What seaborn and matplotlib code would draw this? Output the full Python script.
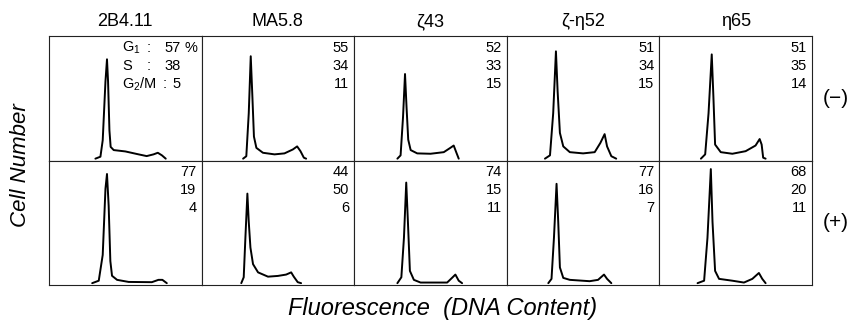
'''Cell-cycle DNA histograms for five clones, without (-) and with (+) stimulation.'''
import matplotlib
matplotlib.use('Agg')
import matplotlib.pyplot as plt
import seaborn as sns

CLONES = ['2B4.11', 'MA5.8', 'ζ43', 'ζ-η52', 'η65']
ROWS = ['(−)', '(+)']
PHASES = ['G$_1$', 'S', 'G$_2$/M']

# percent G1 / S / G2-M per clone
PCT_NEG = [[57, 38, 5], [55, 34, 11], [52, 33, 15], [51, 34, 15], [51, 35, 14]]
PCT_POS = [[77, 19, 4], [44, 50, 6], [74, 15, 11], [77, 16, 7], [68, 20, 11]]

# histogram traces: fluorescence channel (0-100) vs relative cell number
X_2B4_NEG = [30.4, 33.7, 35.2, 37, 38, 38.7, 39.6, 40.4, 42.4, 50, 58.7, 64, 68.5, 71.3, 74, 76.5]
Y_2B4_NEG = [0, 1.6, 15, 63, 81, 63, 23, 9.6, 7, 5.9, 3.5, 2.1, 3.5, 4.8, 2.7, 0]
X_MA5_NEG = [27.2, 29.3, 30.9, 32.2, 33.3, 34.3, 35.9, 40.2, 47.8, 54.3, 59.8, 62.6, 64.8, 67, 68.5]
Y_MA5_NEG = [0, 2, 37, 83.5, 50, 18, 8.8, 4.8, 3.5, 4.3, 7.5, 10, 6.1, 0.8, 0]
X_Z43_NEG = [28.3, 30.4, 32, 33.3, 34.3, 35.4, 37, 41.3, 50, 58.7, 63, 65.2, 67, 68.5]
Y_Z43_NEG = [0, 2.7, 34, 69, 42, 15.5, 7, 4.3, 4, 5.3, 8.8, 10.7, 4.8, 0]
X_ZE52_NEG = [25, 28.3, 30.4, 32.2, 33.3, 34.8, 37, 41.3, 50, 57.6, 61.3, 64.1, 65.7, 68.5, 71.7]
Y_ZE52_NEG = [0, 2.7, 37, 87.5, 55, 21, 10, 5.3, 4.3, 5.3, 12.8, 20, 10, 2, 0]
X_E65_NEG = [27.2, 30, 32.2, 34.3, 35.4, 36.5, 40.2, 47.8, 56.5, 63, 65.7, 67, 68, 69.6]
Y_E65_NEG = [0, 3.5, 37, 85, 50, 11.5, 5.3, 4, 6.1, 10.7, 16, 11.5, 0.8, 0]

X_2B4_POS = [28.3, 32.6, 35.2, 37, 38, 39.1, 40.2, 41.3, 44.6, 52.2, 67.4, 71.7, 74.3, 77.2]
Y_2B4_POS = [0, 2, 23, 77, 89, 63, 18, 6, 2.7, 1, 0.8, 2.7, 2.7, 0]
X_MA5_POS = [26, 27.6, 28.7, 30, 30.9, 32, 33.7, 37, 43.5, 50, 55.4, 58.7, 60.4, 63, 65.2]
Y_MA5_POS = [0, 4.8, 37, 73, 50, 29, 15.5, 8.8, 5.3, 5.9, 7, 8.8, 5.3, 0.8, 0]
X_Z43_POS = [28.3, 30.9, 32.6, 34.1, 35.2, 36.5, 39.1, 43.5, 60.9, 64.1, 66.3, 68.5, 70.7]
Y_Z43_POS = [0, 4.8, 37, 82, 50, 10, 2.7, 0.5, 0.5, 4.3, 7, 2, 0]
X_ZE52_POS = [27.2, 29.3, 30.9, 32.6, 33.7, 34.8, 37, 41.3, 54.3, 59.8, 63.7, 65.7, 68.5]
Y_ZE52_POS = [0, 3.5, 37, 81, 50, 12.8, 4.3, 2.7, 1.6, 2.7, 7, 3.5, 0]
X_E65_POS = [25, 29.3, 31.5, 33.7, 34.8, 36.5, 39.1, 47.8, 55.4, 60.9, 65.2, 67.4, 69.6]
Y_E65_POS = [0, 2, 37, 93, 50, 10, 3.5, 2, 0.5, 3.5, 8.3, 3.5, 0]

TRACES = [
    [(X_2B4_NEG, Y_2B4_NEG), (X_MA5_NEG, Y_MA5_NEG), (X_Z43_NEG, Y_Z43_NEG),
     (X_ZE52_NEG, Y_ZE52_NEG), (X_E65_NEG, Y_E65_NEG)],
    [(X_2B4_POS, Y_2B4_POS), (X_MA5_POS, Y_MA5_POS), (X_Z43_POS, Y_Z43_POS),
     (X_ZE52_POS, Y_ZE52_POS), (X_E65_POS, Y_E65_POS)],
]
PCTS = [PCT_NEG, PCT_POS]

sns.set_style('white')
plt.rcParams['font.family'] = ['Liberation Sans', 'DejaVu Sans']
plt.rcParams['text.color'] = 'black'
plt.rcParams['mathtext.fontset'] = 'custom'
plt.rcParams['mathtext.rm'] = 'Liberation Sans'
plt.rcParams['mathtext.it'] = 'Liberation Sans:italic'

W, H = 851, 324
fig, axes = plt.subplots(2, 5, figsize=(W / 100, H / 100), dpi=100)
fig.subplots_adjust(left=49 / W, right=812 / W, top=1 - 36 / H, bottom=1 - 285 / H,
                    wspace=0, hspace=0)

for r in range(2):
    for c in range(5):
        ax = axes[r, c]
        xs, ys = TRACES[r][c]
        sns.lineplot(x=xs, y=ys, ax=ax, color='black', lw=1.4, sort=False, estimator=None)
        ax.set_xlim(0, 100)
        ax.set_ylim(-1.5, 100)
        ax.set_xticks([])
        ax.set_yticks([])
        for sp in ax.spines.values():
            sp.set_color('#222222')
            sp.set_linewidth(0.8)
        vals = PCTS[r][c]
        line_y = [0.904, 0.76, 0.616]
        if r == 0 and c == 0:
            colon_x = [0.64, 0.64, 0.745]
            for k in range(3):
                ax.text(0.478, line_y[k], PHASES[k], transform=ax.transAxes,
                        ha='left', va='center', fontsize=10.5)
                ax.text(colon_x[k], line_y[k], ':', transform=ax.transAxes,
                        ha='left', va='center', fontsize=10.5)
                ax.text(0.865, line_y[k], str(vals[k]), transform=ax.transAxes,
                        ha='right', va='center', fontsize=10.5)
            ax.text(0.885, line_y[0], '%', transform=ax.transAxes,
                    ha='left', va='center', fontsize=10.5)
        else:
            for k in range(3):
                ax.text(0.967, line_y[k], str(vals[k]), transform=ax.transAxes,
                        ha='right', va='center', fontsize=10.5)

col_w = (812 - 49) / 5
for c, name in enumerate(CLONES):
    fig.text((49 + col_w * (c + 0.5)) / W, 1 - 22 / H, name, ha='center', va='center', fontsize=13)

for r, lab in enumerate(ROWS):
    fig.text(836 / W, 1 - (98 + 125 * r) / H, lab, ha='center', va='center', fontsize=15)

fig.text(21 / W, 1 - 165 / H, 'Cell Number', rotation=90, ha='center', va='center',
         fontsize=16, style='italic')
fig.text(443 / W, 1 - 309 / H, 'Fluorescence  (DNA Content)', ha='center', va='center',
         fontsize=17, style='italic')

fig.savefig('out.png', dpi=100)
